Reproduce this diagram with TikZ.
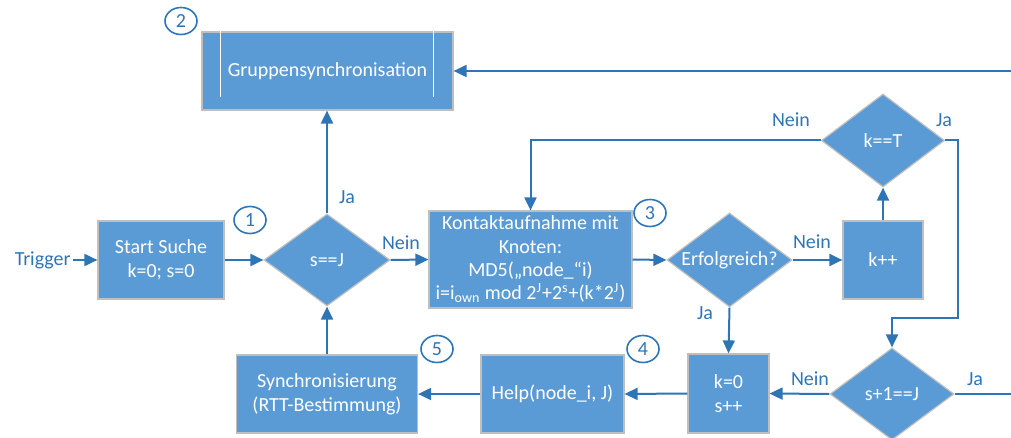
\documentclass[tikz,border=0pt]{standalone}
\usepackage{fontspec}
\setmainfont{Carlito}
\usepackage{tikz}
\usetikzlibrary{positioning,arrows.meta,shapes.geometric,calc}
\definecolor{boxBlue}{HTML}{5B9BD5}
\definecolor{lineBlue}{HTML}{2E75B6}
\definecolor{edgeGray}{HTML}{BFBFBF}

\begin{document}
\begin{tikzpicture}[x=0.5pt, y=-0.5pt,
  font=\fontsize{10}{12}\selectfont,
  proc/.style={draw=edgeGray, line width=0.6pt, fill=boxBlue, text=white, align=center, inner sep=1pt},
  decision/.style={diamond, draw=edgeGray, line width=0.6pt, fill=boxBlue, inner sep=0pt},
  marker/.style={ellipse, draw=lineBlue, line width=0.8pt, fill=white, text=lineBlue,
    minimum width=16pt, minimum height=13.5pt, inner sep=0pt},
  lbl/.style={text=lineBlue, inner sep=1pt},
  flow/.style={draw=lineBlue, line width=1pt, -{Triangle[length=6.5pt,width=6pt]}}]
  \useasboundingbox (0,0) rectangle (1011,438);
  \clip (0,0) rectangle (1011,438);

  % step numbers (behind the boxes)
  \node[marker] (m2) at (181,21) {2};
  \node[marker] (m1) at (250,220) {1};
  \node[marker] (m3) at (650,213) {3};
  \node[marker] (m4) at (643,349) {4};
  \node[marker] (m5) at (437,349) {5};

  % process boxes
  \node[proc, minimum width=125.5pt, minimum height=39pt] (grp) at (327.5,71) {Gruppensynchronisation};
  \draw[white, line width=0.5pt] ($(grp.north west)+(19,0)$) -- ++(0,66);
  \draw[white, line width=0.5pt] ($(grp.north east)+(-20,0)$) -- ++(0,66);
  \node[proc, minimum width=63pt, minimum height=39pt] (start) at (161,260) {Start Suche\\k=0; s=0};
  \node[proc, minimum width=101.5pt, minimum height=48.5pt, font=\fontsize{10}{11.7}\selectfont] (kontakt) at (530.5,259.5)
    {Kontaktaufnahme mit\\Knoten:\\MD5(„node\_“i)\\i=i\textsubscript{own} mod 2\textsuperscript{J}+2\textsuperscript{s}+(k*2\textsuperscript{J})};
  \node[proc, minimum width=40pt, minimum height=39pt] (kpp) at (883,260) {k++};
  \node[proc, minimum width=40.5pt, minimum height=39.5pt] (knull) at (728.5,393.5) {k=0\\s++};
  \node[proc, minimum width=71.5pt, minimum height=39pt] (help) at (552.5,394) {Help(node\_i, J)};
  \node[proc, minimum width=90.5pt, minimum height=39pt] (sync) at (327,394) {Synchronisierung\\(RTT-Bestimmung)};

  % decisions
  \node[decision, minimum width=63pt, minimum height=46pt, label={[text=white]center:s==J}] (sj) at (327,260) {};
  \node[decision, minimum width=62.5pt, minimum height=47pt, label={[text=white]center:Erfolgreich?}] (erf) at (729.5,260) {};
  \node[decision, minimum width=61.5pt, minimum height=46.5pt, label={[text=white]center:k==T}] (kT) at (883,140.5) {};
  \node[decision, minimum width=62pt, minimum height=46pt, label={[text=white]center:s+1==J}] (sJone) at (892,394) {};

  % connectors
  \node[lbl, anchor=east] (trig) at (73,260) {Trigger};
  \draw[flow] (trig.east) -- (start.west);
  \draw[flow] (start.east) -- (sj.west);
  \draw[flow] (sj.north) -- (sj.north |- grp.south);
  \draw[flow] (sj.east) -- (kontakt.west);
  \draw[flow] (kontakt.east) -- (erf.west);
  \draw[flow] (erf.east) -- (kpp.west);
  \draw[flow] (kpp.north) -- (kT.south);
  \draw[flow] (kT.west) -| (kontakt.north);
  \coordinate (jaRight) at (958,140.5);
  \coordinate (jaDown) at (958,318);
  \draw[flow] (kT.east) -- (jaRight) -- (jaDown) -| (sJone.north);
  \draw[flow] (sJone.west) -- (knull.east);
  \coordinate (loopBack) at (1030,394);
  \draw[flow] (sJone.east) -- (loopBack) |- (grp.east);
  \draw[flow] (erf.south) -- (knull.north);
  \draw[flow] (knull.west) -- (help.east);
  \draw[flow] (help.west) -- (sync.east);
  \draw[flow] (sync.north) -- (sj.south);

  % branch labels
  \node[lbl] (jaSj) at (347,197) {Ja};
  \node[lbl] (neinSj) at (401,243) {Nein};
  \node[lbl] (neinErf) at (812,242) {Nein};
  \node[lbl] (jaErf) at (705,313) {Ja};
  \node[lbl] (neinKT) at (791,120) {Nein};
  \node[lbl] (jaKT) at (944,120) {Ja};
  \node[lbl] (neinSJone) at (810,379) {Nein};
  \node[lbl] (jaSJone) at (975,379) {Ja};
\end{tikzpicture}
\end{document}
